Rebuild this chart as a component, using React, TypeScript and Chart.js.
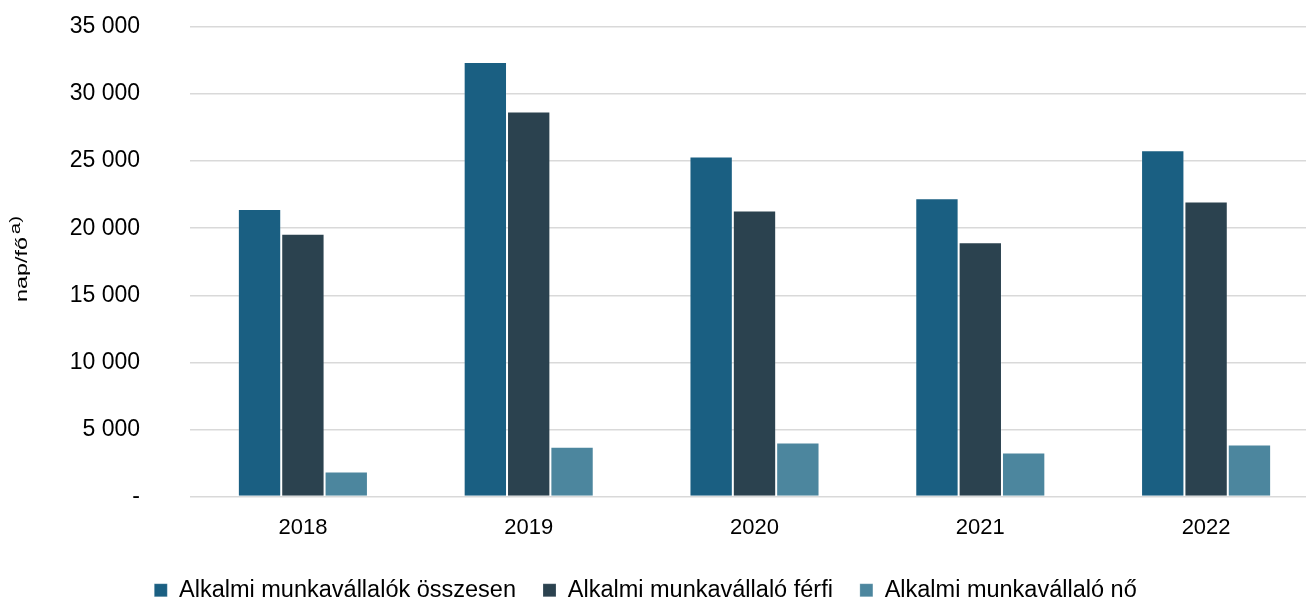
import React, { useEffect, useRef } from "react";
import { Chart, registerables } from "chart.js";

Chart.register(...registerables);

const categories = ["2018", "2019", "2020", "2021", "2022"];
const seriesNames = [
  "Alkalmi munkavállalók összesen",
  "Alkalmi munkavállaló férfi",
  "Alkalmi munkavállaló nő",
];
const totalValues = [21440, 32390, 25350, 22240, 25820];
const maleValues = [19580, 28710, 21320, 18960, 21990];
const femaleValues = [1870, 3710, 4030, 3280, 3880];
const seriesColors = ["#1A5F82", "#2B424F", "#4C869E"];
const yTitle = "nap/fő";
const yTitleSup = "a)";

const FONT = "'Liberation Sans', Arial, sans-serif";

const yTitlePlugin = {
  id: "yTitlePlugin",
  afterDraw(chart: any) {
    const ctx = chart.ctx;
    ctx.save();
    ctx.fillStyle = "#000";
    ctx.translate(27, 302);
    ctx.rotate(-Math.PI / 2);
    ctx.scale(1.375, 1);
    ctx.textBaseline = "alphabetic";
    ctx.textAlign = "left";
    ctx.font = `17px ${FONT}`;
    const w1 = ctx.measureText(yTitle).width;
    ctx.fillText(yTitle, 0, 0);
    ctx.font = `15px ${FONT}`;
    ctx.fillText(yTitleSup, w1 + 2, -7);
    ctx.restore();
  },
};

const legendShiftPlugin = {
  id: "legendShiftPlugin",
  afterLayout(chart: any) {
    const lg = chart.legend;
    if (lg) {
      lg.left -= 14;
      lg.right -= 14;
      lg.top -= 7;
      lg.bottom -= 7;
    }
  },
};

function formatTick(v: number): string {
  if (v === 0) return "-";
  const s = Math.round(v).toString();
  return s.replace(/\B(?=(\d{3})+(?!\d))/g, " ");
}

export default function App() {
  const canvasRef = useRef<HTMLCanvasElement | null>(null);

  useEffect(() => {
    const canvas = canvasRef.current;
    if (!canvas) return;
    const dataSets = [totalValues, maleValues, femaleValues].map((vals, i) => ({
      label: seriesNames[i],
      data: vals,
      backgroundColor: seriesColors[i],
      borderColor: "rgba(255,255,255,0.2)",
      borderWidth: 1,
      categoryPercentage: 0.576,
      barPercentage: 1.0,
    }));
    const chart = new Chart(canvas, {
      type: "bar",
      data: { labels: categories, datasets: dataSets },
      plugins: [yTitlePlugin, legendShiftPlugin],
      options: {
        responsive: false,
        animation: false,
        layout: { padding: { top: 27, right: 1, left: 0, bottom: -18 } },
        scales: {
          x: {
            grid: { display: false, drawTicks: false },
            border: { display: false },
            ticks: {
              color: "#000",
              font: { family: FONT, size: 22 },
              padding: 17.8,
            },
          },
          y: {
            min: 0,
            max: 35000,
            afterFit(scale: any) {
              scale.width = 190;
              scale.paddingTop = 0;
              scale.paddingBottom = 0;
            },
            grid: {
              color: "#d9d9d9",
              lineWidth: 1.5,
              drawTicks: false,
            },
            border: { display: false },
            ticks: {
              stepSize: 5000,
              color: "#000",
              font: { family: FONT, size: 23 },
              padding: 50,
              callback: (v: any) => formatTick(Number(v)),
            },
          },
        },
        plugins: {
          legend: {
            position: "bottom",
            labels: {
              color: "#000",
              font: { family: FONT, size: 23.5 },
              boxWidth: 13,
              boxHeight: 13,
              padding: 27,
            },
          },
          tooltip: { enabled: false },
        },
      },
    });
    return () => chart.destroy();
  }, []);

  return (
    <div
      style={{
        position: "fixed",
        left: 0,
        top: 0,
        width: 1306,
        height: 601,
        overflow: "hidden",
        background: "#fff",
      }}
    >
      <canvas
        ref={canvasRef}
        width={1320}
        height={601}
        style={{ display: "block", width: 1320, height: 601 }}
      />
    </div>
  );
}
